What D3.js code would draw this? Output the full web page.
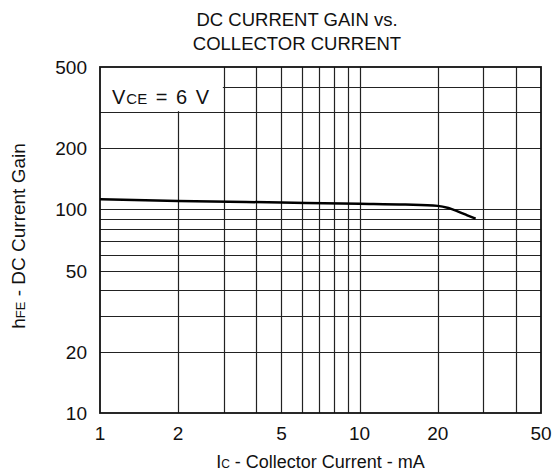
<!DOCTYPE html>
<html>
<head>
<meta charset="utf-8">
<script src="https://cdn.jsdelivr.net/npm/d3@7"></script>
<style>
  body { margin: 0; background: #fff; }
  text { font-family: "Liberation Sans", Arial, sans-serif; fill: #111; }
</style>
</head>
<body>
<div id="vis-container"></div>
<script>
// chart data
const xTicks = [1, 2, 5, 10, 20, 50];
const yTicks = [10, 20, 50, 100, 200, 500];
const xGrid = [2, 3, 4, 5, 6, 7, 8, 9, 10, 20, 30, 40];
const yGrid = [20, 30, 40, 50, 60, 70, 80, 90, 100, 200, 300, 400];
const icValues = [1, 2, 5, 10, 15, 20, 22, 24, 26, 28];
const hfeValues = [112, 110, 108, 106.5, 105.5, 104, 101.5, 97.5, 93.5, 90];

const width = 556;
const height = 472;
const margin = { top: 67, right: 15, bottom: 59, left: 100 };

const svg = d3.select("#vis-container")
    .append("svg")
    .attr("width", width)
    .attr("height", height);

const x = d3.scaleLog()
    .domain([1, 50])
    .range([margin.left, width - margin.right]);

const y = d3.scaleLog()
    .domain([10, 500])
    .range([height - margin.bottom, margin.top]);

// grid lines
svg.append("g")
    .selectAll("line")
    .data(xGrid)
    .enter()
    .append("line")
    .attr("x1", (d) => Math.round(x(d)) + 0.5)
    .attr("x2", (d) => Math.round(x(d)) + 0.5)
    .attr("y1", y(500))
    .attr("y2", y(10))
    .attr("stroke", "#222")
    .attr("stroke-width", 1.2);

svg.append("g")
    .selectAll("line")
    .data(yGrid)
    .enter()
    .append("line")
    .attr("x1", x(1))
    .attr("x2", x(50))
    .attr("y1", (d) => Math.round(y(d)) + 0.5)
    .attr("y2", (d) => Math.round(y(d)) + 0.5)
    .attr("stroke", "#222")
    .attr("stroke-width", 1.2);

// label box hides grid in top-left corner
svg.append("rect")
    .attr("x", x(1))
    .attr("y", y(500))
    .attr("width", x(3) - x(1) - 1)
    .attr("height", y(300) - y(500) - 1)
    .attr("fill", "#fff");

const vce = svg.append("text")
    .attr("x", x(1) + 12)
    .attr("y", y(500) + 37)
    .attr("font-size", 20);
vce.append("tspan").text("V");
vce.append("tspan").attr("dx", 1).attr("font-size", 15).text("CE");
vce.append("tspan").attr("word-spacing", 3).text(" = 6 V");

// frame
svg.append("rect")
    .attr("x", x(1))
    .attr("y", y(500))
    .attr("width", x(50) - x(1))
    .attr("height", y(10) - y(500))
    .attr("fill", "none")
    .attr("stroke", "#111")
    .attr("stroke-width", 1.8);

// curve
const line = d3.line()
    .x((d, i) => x(icValues[i]))
    .y((d) => y(d))
    .curve(d3.curveMonotoneX);

svg.append("path")
    .datum(hfeValues)
    .attr("d", line)
    .attr("fill", "none")
    .attr("stroke", "#000")
    .attr("stroke-width", 2.5);

// tick labels
svg.append("g")
    .selectAll("text")
    .data(xTicks)
    .enter()
    .append("text")
    .attr("x", (d) => x(d))
    .attr("y", height - margin.bottom + 27)
    .attr("text-anchor", "middle")
    .attr("font-size", 19)
    .text((d) => d);

svg.append("g")
    .selectAll("text")
    .data(yTicks)
    .enter()
    .append("text")
    .attr("x", margin.left - 13)
    .attr("y", (d) => y(d) + 7)
    .attr("text-anchor", "end")
    .attr("font-size", 19)
    .text((d) => d);

// axis titles
const xt = svg.append("text")
    .attr("x", (x(1) + x(50)) / 2)
    .attr("y", height - 4)
    .attr("text-anchor", "middle")
    .attr("font-size", 18);
xt.append("tspan").text("I");
xt.append("tspan").attr("font-size", 12).text("C");
xt.append("tspan").text(" - Collector Current - mA");

const yt = svg.append("text")
    .attr("transform", `translate(25, ${(y(10) + y(500)) / 2 - 4}) rotate(-90)`)
    .attr("text-anchor", "middle")
    .attr("font-size", 19);
yt.append("tspan").text("h");
yt.append("tspan").attr("font-size", 13).text("FE");
yt.append("tspan").text(" - DC Current Gain");

// title
svg.append("text")
    .attr("x", 297)
    .attr("y", 26)
    .attr("text-anchor", "middle")
    .attr("font-size", 18.5)
    .text("DC CURRENT GAIN vs.");
svg.append("text")
    .attr("x", 297)
    .attr("y", 50)
    .attr("text-anchor", "middle")
    .attr("font-size", 18.5)
    .text("COLLECTOR CURRENT");
</script>
</body>
</html>
